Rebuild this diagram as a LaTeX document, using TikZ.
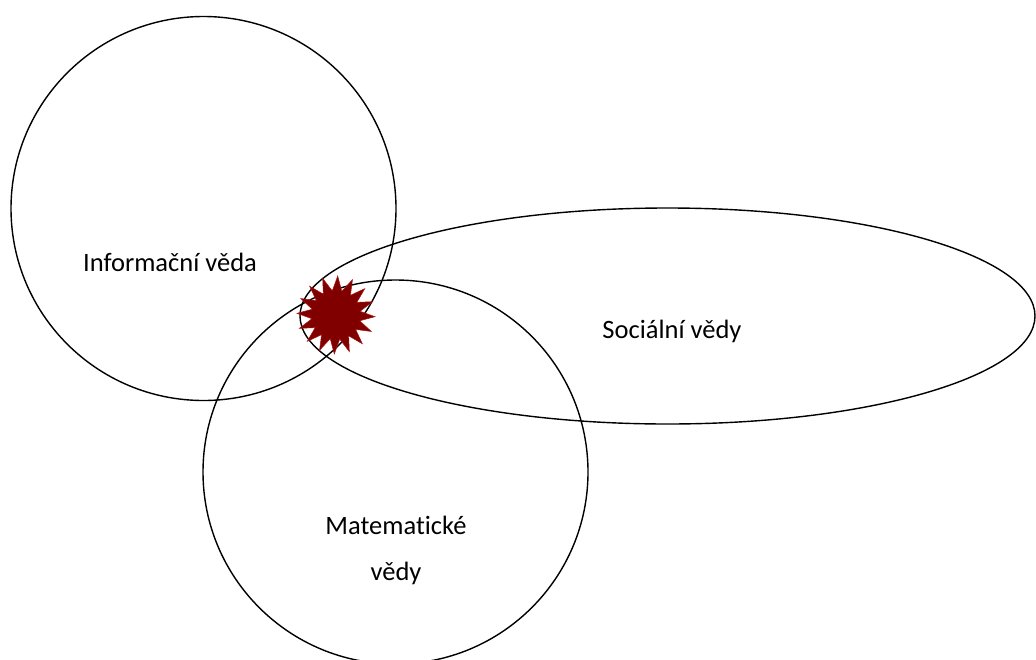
\documentclass[tikz,border=0pt]{standalone}
\usepackage{fontspec}
\setmainfont{Carlito}[Ligatures={NoCommon}]
\usetikzlibrary{shapes.geometric}
\definecolor{starfill}{RGB}{128,0,0}
\definecolor{staredge}{RGB}{170,20,20}
\tikzset{
  ring/.style={draw=black, line width=1.4pt},
  lbl/.style={font=\fontsize{26.5}{30}\selectfont, text=black, inner sep=0pt},
  burst/.style={star, star points=16, star point ratio=1.6, minimum size=78pt,
    inner sep=0pt, fill=starfill, draw=staredge, line width=0.5pt}
}
\begin{document}
\begin{tikzpicture}[x=1pt,y=-1pt]
\useasboundingbox (0,0) rectangle (1036,659);
\fill[white] (0,0) rectangle (1036,659);
% shapes
\draw[ring] (203.5,208.5) ellipse [x radius=192.5, y radius=192];
\draw[ring] (667.5,316) ellipse [x radius=367.5, y radius=108];
\draw[ring] (395.5,472) ellipse [x radius=192.5, y radius=192];
% star
\node[burst, rotate=20] (star) at (336,315) {};
% labels
\node[lbl] (info) at (170,262) {Informační věda};
\node[lbl] (soc) at (672,331) {Sociální vědy};
\node[lbl] (mat1) at (396,525) {Matematické};
\node[lbl] (mat2) at (396,573) {vědy};
\end{tikzpicture}
\end{document}
